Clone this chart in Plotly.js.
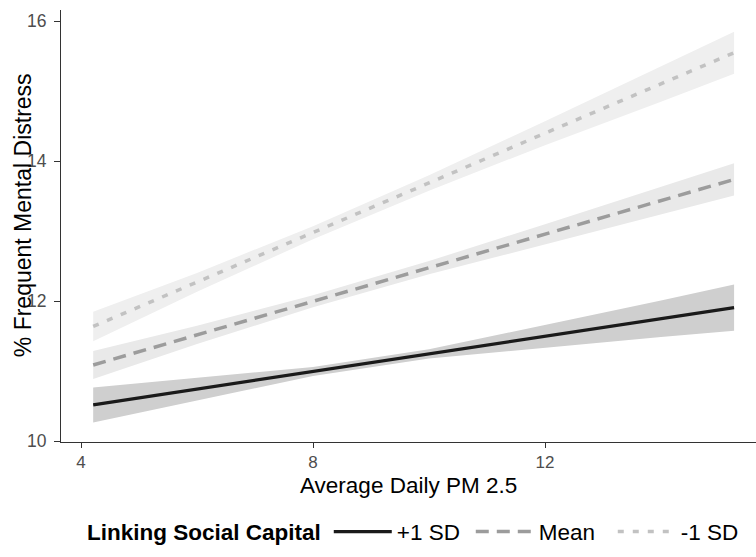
<!DOCTYPE html>
<html>
<head>
<meta charset="utf-8">
<script src="https://cdn.plot.ly/plotly-3.0.1.min.js"></script>
<style>html,body{margin:0;padding:0;background:#fff;}#chart{width:756px;height:557px;}</style>
</head>
<body>
<div id="chart"></div>
<script>
// PM 2.5 values at which the fitted lines / confidence bands were read
const pm = [4.21, 6, 8, 10, 12, 14, 15.26];

// +1 SD linking social capital
const highFit = [10.52, 10.745, 10.997, 11.248, 11.50, 11.75, 11.91];
const highLo  = [10.27, 10.585, 10.932, 11.181, 11.34, 11.49, 11.58];
const highHi  = [10.77, 10.905, 11.062, 11.315, 11.66, 12.01, 12.24];

// Mean linking social capital
const meanFit = [11.09, 11.52, 12.00, 12.48, 12.96, 13.44, 13.74];
const meanLo  = [10.89, 11.39, 11.915, 12.385, 12.82, 13.24, 13.51];
const meanHi  = [11.29, 11.65, 12.085, 12.575, 13.10, 13.64, 13.97];

// -1 SD linking social capital
const lowFit = [11.64, 12.27, 12.98, 13.69, 14.40, 15.10, 15.55];
const lowLo  = [11.43, 12.135, 12.887, 13.58, 14.23, 14.85, 15.25];
const lowHi  = [11.85, 12.405, 13.073, 13.80, 14.57, 15.35, 15.85];

const seriesNames = ["+1 SD", "Mean", "-1 SD"];
const xTicks = [4, 8, 12];
const yTicks = [10, 12, 14, 16];

const FONT = "Liberation Sans, Arial, Helvetica, sans-serif";

function band(lo, hi, color) {
  return {
    x: pm.concat(pm.slice().reverse()),
    y: hi.concat(lo.slice().reverse()),
    type: "scatter", mode: "lines", fill: "toself",
    fillcolor: color, line: {width: 0, color: color},
    showlegend: false, hoverinfo: "skip"
  };
}

const traces = [
  band(lowLo, lowHi, "#efefef"),
  band(meanLo, meanHi, "#e9e9e9"),
  band(highLo, highHi, "#cfcfcf"),
  {x: pm, y: highFit, type: "scatter", mode: "lines", name: seriesNames[0],
   line: {color: "#1a1a1a", width: 3.2}},
  {x: pm, y: meanFit, type: "scatter", mode: "lines", name: seriesNames[1],
   line: {color: "#9c9c9c", width: 3.5, dash: "13px,8px"}},
  {x: pm, y: lowFit, type: "scatter", mode: "lines", name: seriesNames[2],
   line: {color: "#c2c2c2", width: 3.5, dash: "6px,9px"}}
];

const layout = {
  width: 756, height: 557,
  margin: {l: 61, r: 0, t: 10, b: 115},
  paper_bgcolor: "#ffffff", plot_bgcolor: "#ffffff",
  font: {family: FONT, color: "#000"},
  showlegend: true,
  xaxis: {
    range: [3.655, 15.638], tickvals: xTicks, ticktext: xTicks.map(String),
    showgrid: false, zeroline: false, showline: true, linecolor: "#333", linewidth: 1,
    ticks: "outside", ticklen: 5, tickcolor: "#333", tickwidth: 1,
    tickfont: {size: 17, color: "#4d4d4d", family: FONT}
  },
  yaxis: {
    range: [9.99, 16.16], tickvals: yTicks, ticktext: yTicks.map(String),
    showgrid: false, zeroline: false, showline: true, linecolor: "#333", linewidth: 1,
    ticks: "outside", ticklen: 6, tickcolor: "#333", tickwidth: 1, ticklabelstandoff: 4,
    tickfont: {size: 17.5, color: "#4d4d4d", family: FONT}
  },
  annotations: [
    {text: "Average Daily PM 2.5", xref: "paper", yref: "paper",
     x: 0.5, y: -0.1, xanchor: "center", yanchor: "middle", showarrow: false,
     font: {size: 22.5, color: "#000", family: FONT}},
    {text: "% Frequent Mental Distress", xref: "paper", yref: "paper",
     x: -0.0547, y: 0.525, xanchor: "center", yanchor: "middle", showarrow: false,
     textangle: -90, font: {size: 23, color: "#000", family: FONT}}
  ],
  legend: {
    orientation: "h", x: 0.0345, xanchor: "left", y: -0.2083, yanchor: "middle",
    title: {text: "<b>Linking Social Capital</b>", side: "left", font: {size: 22.5, family: FONT}},
    font: {size: 22.5, family: FONT, color: "#000"},
    entrywidth: 69, itemwidth: 58, bgcolor: "rgba(0,0,0,0)"
  }
};

Plotly.newPlot("chart", traces, layout, {displayModeBar: false, staticPlot: true});
</script>
</body>
</html>
